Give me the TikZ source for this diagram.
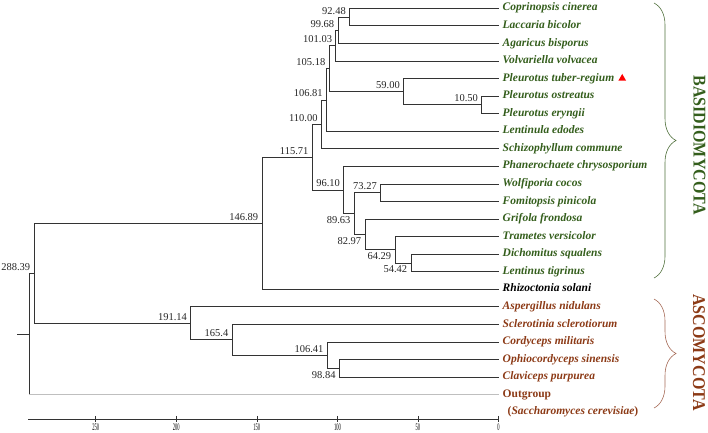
\documentclass[tikz,border=0pt]{standalone}
\usepackage{fontspec}
\setmainfont{Liberation Serif}
\usepackage{tikz}
\usetikzlibrary{positioning,decorations.pathreplacing,shapes.geometric}
\definecolor{basgreen}{RGB}{52,94,28}
\definecolor{ascbrown}{RGB}{140,58,22}
\definecolor{bracegreen}{RGB}{80,112,60}
\definecolor{bracebrown}{RGB}{165,105,85}
\newcommand{\taxfont}{\fontsize{11.5}{13}\selectfont}
\tikzstyle{branch} = [draw=black!80, line width=0.6pt]
\tikzstyle{outline} = [draw=black!25, line width=0.6pt]
\tikzstyle{taxon} = [anchor=west, inner sep=0pt, inner xsep=4pt, text height=8pt, text depth=2.5pt, font=\taxfont\bfseries\itshape]
\tikzstyle{bas} = [taxon, text=basgreen]
\tikzstyle{asc} = [taxon, text=ascbrown]
\tikzstyle{boot} = [font=\fontsize{10.5}{12}\selectfont, inner sep=1.5pt, text=black!85]
\tikzstyle{phylum} = [rotate=-90, inner sep=0pt, font=\fontsize{16}{18}\selectfont\bfseries]
\tikzstyle{clade} = [decorate, decoration={brace, amplitude=22pt}, line width=0.6pt]
\tikzstyle{ticklab} = [anchor=north, inner sep=0pt, yshift=-5pt, font=\fontsize{10}{10}\selectfont]

\begin{document}
\begin{tikzpicture}
\useasboundingbox (0,0) rectangle (708pt,-432pt);
\begin{scope}[x={(-1.611pt,0pt)}, y={(0pt,-17.56pt)}, shift={(498.5pt,-8.2pt)}]
    % leaves
    \node[bas] (cop) at (0,0) {Coprinopsis cinerea};
    \node[bas] (lac) at (0,1) {Laccaria bicolor};
    \node[bas] (aga) at (0,2) {Agaricus bisporus};
    \node[bas] (vol) at (0,3) {Volvariella volvacea};
    \node[bas] (ptr) at (0,4) {Pleurotus tuber-regium};
    \node[regular polygon, regular polygon sides=3, fill=red, inner sep=0pt, minimum size=9pt, right=1pt of ptr] (tri) {};
    \node[bas] (pos) at (0,5) {Pleurotus ostreatus};
    \node[bas] (per) at (0,6) {Pleurotus eryngii};
    \node[bas] (len) at (0,7) {Lentinula edodes};
    \node[bas] (sch) at (0,8) {Schizophyllum commune};
    \node[bas] (pha) at (0,9) {Phanerochaete chrysosporium};
    \node[bas] (wol) at (0,10) {Wolfiporia cocos};
    \node[bas] (fom) at (0,11) {Fomitopsis pinicola};
    \node[bas] (gri) at (0,12) {Grifola frondosa};
    \node[bas] (tra) at (0,13) {Trametes versicolor};
    \node[bas] (dic) at (0,14) {Dichomitus squalens};
    \node[bas] (lti) at (0,15) {Lentinus tigrinus};
    \node[taxon] (rhi) at (0,16) {Rhizoctonia solani};
    \node[asc] (asp) at (0,17) {Aspergillus nidulans};
    \node[asc] (scl) at (0,18) {Sclerotinia sclerotiorum};
    \node[asc] (cor) at (0,19) {Cordyceps militaris};
    \node[asc] (oph) at (0,20) {Ophiocordyceps sinensis};
    \node[asc] (cla) at (0,21) {Claviceps purpurea};
    \node[asc, font=\taxfont\bfseries] (out) at (0,22) {Outgroup};
    \node[asc, font=\taxfont\bfseries, below right=6pt and 5pt of out.south west] (sac) {(\textit{Saccharomyces cerevisiae})};

    % internal nodes with bootstrap labels
    \foreach \nm/\v/\r/\a/\dy in {c1/92.48/0.5/south east/1, c2/99.68/1.25/south east/1,
        c3/101.03/2.125/south east/1, p1/10.50/5.5/south east/1, p2/59.00/4.75/south east/1,
        c4/105.18/3.4375/south east/1, c5/106.81/5.21875/south east/1, c6/110.00/6.609375/south east/1,
        d1/54.42/14.5/north east/-1.5, d2/64.29/13.75/north east/-1.5, d3/82.97/12.875/north east/-1.5,
        d4/73.27/10.5/south east/1, d5/89.63/11.6875/north east/-1.5, d6/96.10/10.34375/south east/1,
        b1/115.71/8.4765625/south east/1, b2/146.89/12.2383/south east/1,
        a1/98.84/20.5/north east/-1.5, a2/106.41/19.75/south east/1, a3/165.4/18.875/south east/1,
        a4/191.14/17.9375/south east/1, r1/288.39/15.0879/south east/1} {
        \coordinate (\nm) at (\v,\r);
        \node[boot, anchor=\a, xshift=-2pt, yshift=\dy pt] (l\nm) at (\nm) {\v};
    }
    \coordinate (root) at (291.3,18.544);
    \coordinate (stem) at (298.8,18.544);

    \draw[branch] (c1) |- (cop) (c1) |- (lac)
        (c2) |- (c1) (c2) |- (aga)
        (c3) |- (c2) (c3) |- (vol)
        (p1) |- (pos) (p1) |- (per)
        (p2) |- (ptr) (p2) |- (p1)
        (c4) |- (c3) (c4) |- (p2)
        (c5) |- (c4) (c5) |- (len)
        (c6) |- (c5) (c6) |- (sch)
        (d1) |- (dic) (d1) |- (lti)
        (d2) |- (tra) (d2) |- (d1)
        (d3) |- (gri) (d3) |- (d2)
        (d4) |- (wol) (d4) |- (fom)
        (d5) |- (d4) (d5) |- (d3)
        (d6) |- (pha) (d6) |- (d5)
        (b1) |- (c6) (b1) |- (d6)
        (b2) |- (b1) (b2) |- (rhi)
        (a1) |- (oph) (a1) |- (cla)
        (a2) |- (cor) (a2) |- (a1)
        (a3) |- (scl) (a3) |- (a2)
        (a4) |- (asp) (a4) |- (a3)
        (r1) |- (b2) (r1) |- (a4)
        (root) |- (r1) (root) -- (root |- out)
        (stem) -- (root);
    \draw[outline] (root |- out) -- (out);

    % scale bar
    \coordinate (axl) at (292,23.39);
    \coordinate (axr) at (0,23.39);
    \draw[branch] (axl) -- (axr);
    \foreach \t in {0,50,...,250} {
        \draw[branch] (\t,23.39) ++(0pt,3pt) -- ++(0pt,-6pt);
        \node[ticklab] (tk\t) at (\t,23.39) {\scalebox{0.45}[1]{\t}};
    }
\end{scope}

% phyla
\draw[clade, draw=bracegreen] (654pt,-3pt) -- (654pt,-278pt);
\draw[clade, draw=bracebrown] (654pt,-299pt) -- (654pt,-408pt);
\node[phylum, text=basgreen] (basi) at (699.5pt,-145pt) {\scalebox{1}[1.12]{BASIDIOMYCOTA}};
\node[phylum, text=ascbrown] (asco) at (699pt,-352.5pt) {\scalebox{1}[1.12]{ASCOMYCOTA}};
\end{tikzpicture}
\end{document}
